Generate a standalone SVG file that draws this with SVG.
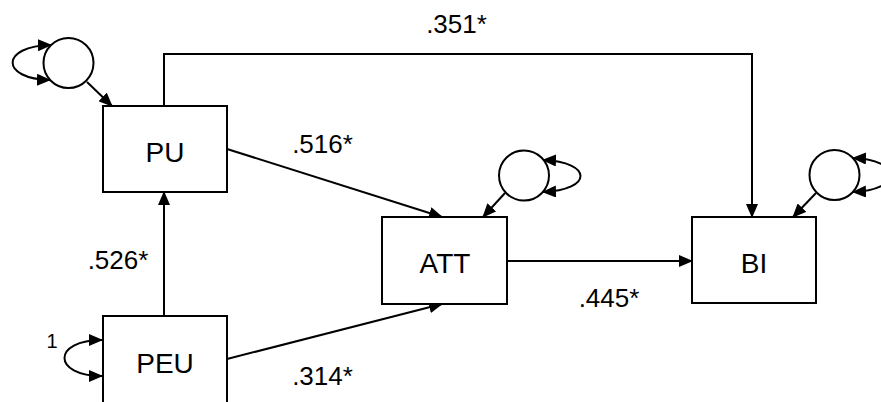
<svg xmlns="http://www.w3.org/2000/svg" width="881" height="402" viewBox="0 0 881 402">
<style>
.box{fill:#fff;stroke:#000;stroke-width:2}
.err{fill:#fff;stroke:#000;stroke-width:2}
.lbl{font-family:"Liberation Sans",Arial,sans-serif;font-size:28px;fill:#000;text-anchor:middle}
.num{font-family:"Liberation Sans",Arial,sans-serif;font-size:26px;fill:#000;text-anchor:middle}
.one{font-family:"Liberation Sans",Arial,sans-serif;font-size:20px;fill:#000;text-anchor:middle}
.c{fill:none;stroke:#000;stroke-width:2;marker-end:url(#ah)}
.loop{fill:none;stroke:#000;stroke-width:2;marker-start:url(#ah);marker-end:url(#ah)}
</style>
<defs>
<marker id="ah" markerUnits="userSpaceOnUse" markerWidth="14" markerHeight="12" viewBox="0 0 14 12" refX="13" refY="6" orient="auto-start-reverse">
<path d="M0,0 L14,6 L0,12 z" fill="#000"/>
</marker>
</defs>
<rect width="881" height="402" fill="#fff"/>
<g id="connectors">
<path class="c" d="M164,106 L164,54 L752,54 L752,217"/>
<path class="c" d="M227,149 L442,217"/>
<path class="c" d="M227,359 L442,304"/>
<path class="c" d="M164,316 L164,192"/>
<path class="c" d="M507,261 L692,261"/>
<path class="c" d="M87,82 L112,106"/>
<path class="c" d="M505,193 L483,217"/>
<path class="c" d="M816,193 L793,217"/>
<path class="loop" d="M51,45 C0,46 0,79 50,80"/>
<path class="loop" d="M102,340 C52,340 52,376 102,376"/>
<path class="loop" d="M543,160 C593,162 593,190 543,192"/>
<path class="loop" d="M853,158 C903,160 903,190 853,192"/>
</g>
<g id="e_PU"><circle class="err" cx="68.5" cy="63" r="25"/></g>
<g id="e_ATT"><circle class="err" cx="524" cy="175.5" r="25"/></g>
<g id="e_BI"><circle class="err" cx="834.5" cy="175" r="25"/></g>
<g id="PU"><rect class="box" x="103" y="106" width="124" height="86"/><text class="lbl" x="165" y="162">PU</text></g>
<g id="PEU"><rect class="box" x="103" y="316" width="124" height="90"/><text class="lbl" x="165" y="373">PEU</text></g>
<g id="ATT"><rect class="box" x="382" y="217" width="125" height="87"/><text class="lbl" x="445" y="273">ATT</text></g>
<g id="BI"><rect class="box" x="692" y="217" width="124" height="86"/><text class="lbl" x="754" y="273">BI</text></g>
<g id="labels">
<text class="num" x="456.5" y="33">.351*</text>
<text class="num" x="322.5" y="153">.516*</text>
<text class="num" x="118" y="269">.526*</text>
<text class="num" x="609" y="307">.445*</text>
<text class="num" x="322.5" y="385">.314*</text>
<text class="one" x="52" y="348">1</text>
</g>
</svg>
